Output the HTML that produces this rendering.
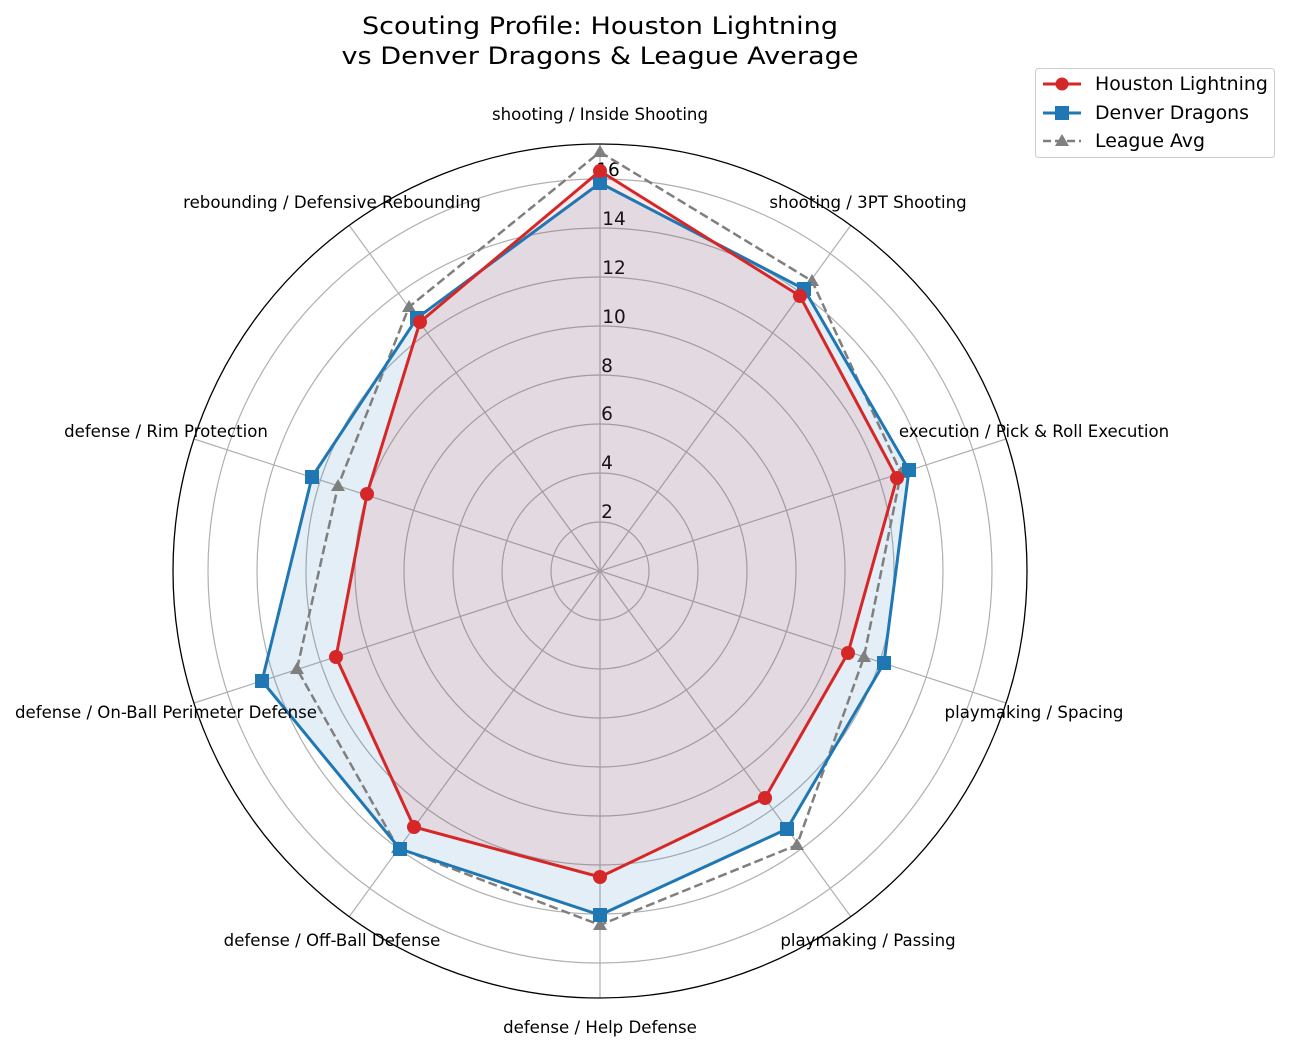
<!DOCTYPE html>
<html><head><meta charset="utf-8"><style>body{margin:0;background:#fff}svg{display:block}</style></head>
<body>
<svg width="1289" height="1052" viewBox="0 0 1289 1052" xmlns="http://www.w3.org/2000/svg" font-family="DejaVu Sans, Liberation Sans, sans-serif">
<rect width="1289" height="1052" fill="#fff"/>
<g fill="none" stroke="#b0b0b0" stroke-width="1.2">
<circle cx="600" cy="571" r="49"/><circle cx="600" cy="571" r="98"/><circle cx="600" cy="571" r="147"/><circle cx="600" cy="571" r="196"/><circle cx="600" cy="571" r="245"/><circle cx="600" cy="571" r="294"/><circle cx="600" cy="571" r="343"/><circle cx="600" cy="571" r="392"/>
<line x1="600" y1="571" x2="600" y2="144"/>
<line x1="600" y1="571" x2="851" y2="225"/>
<line x1="600" y1="571" x2="1006" y2="439"/>
<line x1="600" y1="571" x2="1006" y2="703"/>
<line x1="600" y1="571" x2="851" y2="917"/>
<line x1="600" y1="571" x2="600" y2="998"/>
<line x1="600" y1="571" x2="349" y2="917"/>
<line x1="600" y1="571" x2="194" y2="703"/>
<line x1="600" y1="571" x2="194" y2="439"/>
<line x1="600" y1="571" x2="349" y2="225"/>
</g>
<circle cx="600" cy="571" r="427" fill="none" stroke="#000" stroke-width="1.3"/>
<g font-size="18.5" fill="#000" text-anchor="middle">
<text x="608" y="176">16</text><text x="614" y="225">14</text><text x="614" y="274">12</text><text x="614" y="323">10</text><text x="607" y="372">8</text><text x="607" y="420">6</text><text x="607" y="469">4</text><text x="607" y="518">2</text>
</g>
<polygon points="600,183 804,289 909,470 884,663 787,829 600,915 400,849 262,681 312,477 417,318" fill="#1f77b4" fill-opacity="0.12"/>
<polygon points="600,171 800,296 897,478 848,653 765,798 600,877 414,827 336,657 367,494 420,322" fill="#d62728" fill-opacity="0.1"/>
<polygon points="600,152 812,281 901,473 864,657 797,845 600,925 398,848 297,669 338,486 409,307" fill="none" stroke="#7f7f7f" stroke-width="2.5" stroke-dasharray="9,4"/>
<g fill="#7f7f7f">
<path d="M600,145 l7,12 h-14z"/><path d="M812,274 l7,12 h-14z"/><path d="M901,466 l7,12 h-14z"/><path d="M864,650 l7,12 h-14z"/><path d="M797,838 l7,12 h-14z"/><path d="M600,918 l7,12 h-14z"/><path d="M398,841 l7,12 h-14z"/><path d="M297,662 l7,12 h-14z"/><path d="M338,479 l7,12 h-14z"/><path d="M409,300 l7,12 h-14z"/>
</g>
<polygon points="600,183 804,289 909,470 884,663 787,829 600,915 400,849 262,681 312,477 417,318" fill="none" stroke="#1f77b4" stroke-width="3"/>
<g fill="#1f77b4">
<rect x="593" y="176" width="14" height="14"/><rect x="797" y="282" width="14" height="14"/><rect x="902" y="463" width="14" height="14"/><rect x="877" y="656" width="14" height="14"/><rect x="780" y="822" width="14" height="14"/><rect x="593" y="908" width="14" height="14"/><rect x="393" y="842" width="14" height="14"/><rect x="255" y="674" width="14" height="14"/><rect x="305" y="470" width="14" height="14"/><rect x="410" y="311" width="14" height="14"/>
</g>
<polygon points="600,171 800,296 897,478 848,653 765,798 600,877 414,827 336,657 367,494 420,322" fill="none" stroke="#d62728" stroke-width="3"/>
<g fill="#d62728">
<circle cx="600" cy="171" r="7"/><circle cx="800" cy="296" r="7"/><circle cx="897" cy="478" r="7"/><circle cx="848" cy="653" r="7"/><circle cx="765" cy="798" r="7"/><circle cx="600" cy="877" r="7"/><circle cx="414" cy="827" r="7"/><circle cx="336" cy="657" r="7"/><circle cx="367" cy="494" r="7"/><circle cx="420" cy="322" r="7"/>
</g>
<g font-size="16.6" fill="#000" text-anchor="middle">
<text x="600" y="120">shooting / Inside Shooting</text>
<text x="868" y="208">shooting / 3PT Shooting</text>
<text x="1034" y="437">execution / Pick &amp; Roll Execution</text>
<text x="1034" y="718">playmaking / Spacing</text>
<text x="868" y="946">playmaking / Passing</text>
<text x="600" y="1033">defense / Help Defense</text>
<text x="332" y="946">defense / Off-Ball Defense</text>
<text x="166" y="718">defense / On-Ball Perimeter Defense</text>
<text x="166" y="437">defense / Rim Protection</text>
<text x="332" y="208">rebounding / Defensive Rebounding</text>
</g>
<g font-size="24" fill="#000" text-anchor="middle">
<text x="600" y="34" textLength="476" lengthAdjust="spacingAndGlyphs">Scouting Profile: Houston Lightning</text>
<text x="600" y="64" textLength="517" lengthAdjust="spacingAndGlyphs">vs Denver Dragons &amp; League Average</text>
</g>
<rect x="1035.5" y="68.5" width="239" height="89" rx="3" fill="#fff" stroke="#ccc"/>
<line x1="1043" y1="84" x2="1081" y2="84" stroke="#d62728" stroke-width="3"/><circle cx="1062" cy="84" r="6.5" fill="#d62728"/>
<line x1="1043" y1="113" x2="1081" y2="113" stroke="#1f77b4" stroke-width="3"/><rect x="1055" y="106" width="14" height="14" fill="#1f77b4"/>
<line x1="1043" y1="141" x2="1081" y2="141" stroke="#7f7f7f" stroke-width="2.5" stroke-dasharray="8,4"/><path d="M1062,134 l7,12 h-14z" fill="#7f7f7f"/>
<g font-size="18.9" fill="#000">
<text x="1095" y="90">Houston Lightning</text>
<text x="1095" y="119">Denver Dragons</text>
<text x="1095" y="147">League Avg</text>
</g>
</svg>
</body></html>
